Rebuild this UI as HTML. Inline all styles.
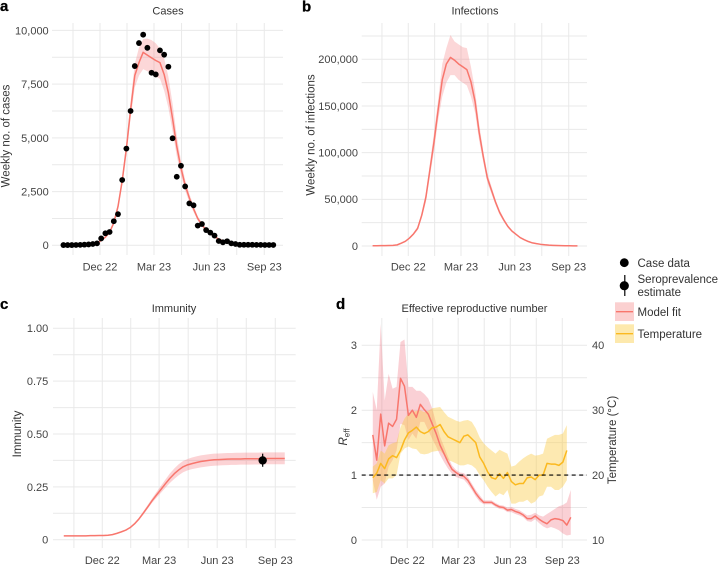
<!DOCTYPE html>
<html>
<head>
<meta charset="utf-8">
<style>
html,body{margin:0;padding:0;background:#fff;}
svg{display:block;font-family:"Liberation Sans",sans-serif;}
text{fill:#444;font-size:11px;}
.title{fill:#333;text-anchor:middle;}
.tag{fill:#000;font-weight:bold;font-size:15px;stroke:#000;stroke-width:0.3px;}
.axt{fill:#333;font-size:11.5px;text-anchor:middle;}
.leg{fill:#333;font-size:11.5px;}
</style>
</head>
<body>
<svg id="chart" width="718" height="566" viewBox="0 0 718 566" xmlns="http://www.w3.org/2000/svg">
  <g id="layer-a"></g>
  <g id="layer-b"></g>
  <g id="layer-c"></g>
  <g id="layer-d"></g>

  <text class="tag" x="0" y="11">a</text>
  <text class="tag" x="302" y="11.5">b</text>
  <text class="tag" x="0" y="309">c</text>
  <text class="tag" x="336" y="309">d</text>

  <text class="title" x="168" y="14.5">Cases</text>
  <text class="title" x="475" y="14.5">Infections</text>
  <text class="title" x="174" y="312">Immunity</text>
  <text class="title" x="474.5" y="312">Effective reproductive number</text>

  <text class="axt" transform="translate(9.5,136) rotate(-90)">Weekly no. of cases</text>
  <text class="axt" transform="translate(314.5,135) rotate(-90)">Weekly no. of infections</text>
  <text class="axt" transform="translate(21,434) rotate(-90)">Immunity</text>
  <text class="axt" transform="translate(347,437) rotate(-90)"><tspan font-style="italic">R</tspan><tspan font-size="8" dy="2.5">eff</tspan></text>
  <text class="axt" transform="translate(616,440) rotate(-90)">Temperature (°C)</text>

  <g>
    <circle cx="624.3" cy="262.7" r="4.4" fill="#000"></circle>
    <text class="leg" x="637.5" y="267">Case data</text>
    <line x1="624.8" x2="624.8" y1="275" y2="296" stroke="#000" stroke-width="1.2"></line>
    <circle cx="624.3" cy="285.7" r="4.6" fill="#000"></circle>
    <text class="leg" x="637.5" y="283">Seroprevalence</text>
    <text class="leg" x="637.5" y="296">estimate</text>
    <rect x="615" y="302.3" width="19" height="18.7" fill="#fbd0d0"></rect>
    <line x1="616" x2="633" y1="311.7" y2="311.7" stroke="#f8766d" stroke-width="1.4"></line>
    <text class="leg" x="637.5" y="316">Model fit</text>
    <rect x="615" y="324.3" width="19" height="18.7" fill="#fde9ad"></rect>
    <line x1="616" x2="633" y1="333.7" y2="333.7" stroke="#fbb91f" stroke-width="1.4"></line>
    <text class="leg" x="637.5" y="338">Temperature</text>
  </g>
</svg>

<script>
// Shared date axis values (days since 1 Dec 2022)
const weekDays = [-61,-54,-47,-40,-33,-26,-19,-12,-5,2,9,16,23,30,37,44,51,58,65,72,79,86,93,100,107,114,121,128,135,142,149,156,163,170,177,184,191,198,205,212,219,226,233,240,247,254,261,268,275,282,289];
const dateTickDays = [0,90,182,274];
const dateTickLabels = ['Dec 22','Mar 23','Jun 23','Sep 23'];
const dateMinorDays = [-45,45,136,228];

// Panel a: weekly cases
const caseData = [10,10,10,15,20,30,40,60,90,320,560,620,1120,1450,3040,4500,6250,8340,9410,9800,9190,8030,7950,9070,8870,8310,4980,3190,3700,2740,1950,1860,915,990,710,590,450,200,140,190,90,60,25,25,25,25,20,20,15,15,15];
const caseFit = [20,20,20,25,30,40,55,75,110,220,380,600,1050,1800,3000,4500,6300,7900,8500,8980,8850,8720,8600,8500,7950,7100,5900,4600,3600,2800,2200,1700,1250,950,720,540,400,290,210,150,110,80,60,45,35,28,22,18,15,12,10];
const caseUpper = [25,25,25,30,35,45,62,85,125,245,420,660,1150,1950,3200,4800,6700,8450,9200,9600,9620,9550,9400,9150,8700,7850,6600,5100,3950,3050,2400,1850,1350,1030,780,580,430,310,225,160,118,86,65,48,38,30,24,20,16,13,11];
const caseLower = [15,15,15,20,25,35,48,66,98,198,345,545,950,1650,2800,4200,5900,7350,7900,8200,8100,8000,7850,7750,7200,6400,5300,4150,3250,2550,2000,1550,1150,870,660,500,370,270,195,140,102,74,55,42,32,26,20,16,14,11,9];
const caseTicks = [0,2500,5000,7500,10000];
const caseTickLabels = ['0','2,500','5,000','7,500','10,000'];
const caseMinorTicks = [1250,3750,6250,8750];

// Panel b: weekly infections
const infectionFit = [300,300,350,400,500,700,1200,3000,5000,8500,13000,19000,33000,52000,82000,112000,146000,178000,195000,202000,199000,195000,192000,189000,176000,155000,122000,96000,73000,60000,47000,36000,28000,21000,16000,12500,9000,6800,4800,3300,2500,1800,1300,900,700,500,400,300,200,150,100];
const infectionUpper = [330,330,380,440,550,770,1320,3300,5500,9300,14300,21000,36000,57000,89000,122000,157000,195000,212000,226000,219000,216000,213000,212000,192000,167000,131000,102000,78000,64000,50000,38500,30000,22500,17200,13400,9700,7300,5200,3600,2700,1950,1400,970,760,540,430,320,215,160,110];
const infectionLower = [270,270,320,360,450,630,1080,2700,4500,7700,11700,17000,30000,47000,75000,102000,135000,160000,175000,183000,183000,178000,175000,172000,160000,143000,113000,90000,68000,56000,44000,33500,26000,19500,14800,11600,8300,6300,4400,3000,2300,1650,1200,830,640,460,370,280,185,140,90];
const infectionTicks = [0,50000,100000,150000,200000];
const infectionTickLabels = ['0','50,000','100,000','150,000','200,000'];
const infectionMinorTicks = [25000,75000,125000,175000,225000];

// Panel c: immunity
const immunityFit = [0.018,0.018,0.018,0.018,0.018,0.018,0.019,0.019,0.02,0.02,0.021,0.024,0.03,0.037,0.045,0.057,0.075,0.098,0.126,0.155,0.185,0.212,0.238,0.265,0.29,0.312,0.33,0.345,0.354,0.36,0.365,0.37,0.373,0.376,0.378,0.379,0.38,0.381,0.382,0.382,0.382,0.383,0.383,0.383,0.383,0.383,0.384,0.384,0.384,0.384,0.384];
const immunityUpper = [0.02,0.02,0.02,0.02,0.02,0.02,0.021,0.021,0.022,0.022,0.023,0.026,0.032,0.039,0.047,0.06,0.08,0.104,0.134,0.165,0.196,0.226,0.255,0.285,0.313,0.337,0.357,0.372,0.382,0.389,0.394,0.399,0.402,0.405,0.407,0.408,0.409,0.41,0.41,0.411,0.411,0.412,0.412,0.412,0.412,0.413,0.413,0.413,0.413,0.413,0.413];
const immunityLower = [0.016,0.016,0.016,0.016,0.016,0.016,0.017,0.017,0.018,0.018,0.019,0.022,0.028,0.035,0.043,0.054,0.07,0.092,0.118,0.147,0.175,0.199,0.222,0.246,0.268,0.288,0.305,0.319,0.328,0.334,0.338,0.342,0.345,0.348,0.35,0.351,0.352,0.353,0.354,0.354,0.355,0.355,0.355,0.356,0.356,0.356,0.357,0.357,0.357,0.357,0.357];
const seroDay = [254];
const seroValue = [0.375];
const seroLow = [0.345];
const seroHigh = [0.407];
const immunityTicks = [0,0.25,0.5,0.75,1];
const immunityTickLabels = ['0','0.25','0.50','0.75','1.00'];
const immunityMinorTicks = [0.125,0.375,0.625,0.875];

// Panel d: effective reproductive number and temperature
const reffFit = [1.62,1.23,1.94,1.45,1.8,1.75,1.86,2.49,2.37,1.92,2.0,1.89,2.09,2.01,1.94,1.79,1.64,1.46,1.33,1.2,1.09,1.04,1.0,0.98,0.92,0.82,0.72,0.64,0.58,0.58,0.58,0.54,0.51,0.5,0.46,0.47,0.44,0.42,0.385,0.33,0.33,0.37,0.32,0.28,0.25,0.31,0.33,0.32,0.3,0.23,0.35];
const reffUpper = [2.28,2.0,3.33,2.15,2.56,2.33,2.36,3.05,3.09,2.36,2.36,2.3,2.3,2.25,2.18,2.03,1.8,1.59,1.44,1.28,1.15,1.08,1.04,1.03,0.97,0.87,0.77,0.69,0.61,0.61,0.61,0.57,0.54,0.53,0.5,0.51,0.48,0.46,0.42,0.38,0.39,0.42,0.38,0.36,0.4,0.44,0.48,0.52,0.54,0.58,0.77];
const reffLower = [0.92,0.62,0.82,0.87,1.13,1.23,1.38,1.79,1.77,1.54,1.64,1.56,1.82,1.82,1.69,1.56,1.44,1.31,1.2,1.1,1.02,0.97,0.95,0.93,0.86,0.77,0.67,0.59,0.55,0.55,0.55,0.51,0.48,0.47,0.43,0.43,0.4,0.38,0.35,0.29,0.28,0.32,0.26,0.21,0.18,0.2,0.18,0.15,0.1,0.07,0.08];
const temperatureFit = [19.6,20.3,21.8,21.0,22.5,23.0,22.7,23.8,25.4,26.5,26.9,27.4,26.7,26.4,26.7,27.3,27.4,27.8,26.7,25.9,25.6,25.3,25,26,26.2,25.6,25,22.8,21.8,20.5,19.6,19.4,20.2,19.5,20.4,19,18.5,18.7,18.7,19.6,19.7,19.3,20,20,21.8,21.7,21.7,21.5,22,23.8];
const temperatureUpper = [21.3,21.8,23.8,23.3,24.6,24.9,25.1,27.4,28.7,29.5,29.7,29.9,30,29.7,29.9,30.3,30.4,30.5,29.7,29,28.7,28.4,28.2,28.4,28.5,28.2,27.2,25.8,24.9,24.3,23.8,23.3,23.9,23.6,23.3,21.3,21.5,22.1,22.6,23,23.3,23,23.1,23.3,25.6,25.9,26.2,26.2,26.4,27.7];
const temperatureLower = [17.2,17.4,19.2,18.7,19.5,19.5,20,23.3,24.1,24.4,24.1,24,23.3,23.2,23.3,23.6,23.7,23.8,23.1,22.3,22.1,21.8,21.5,21.5,21.7,21.5,21,20,19.2,18.2,17.4,16.7,17.2,16.9,17.7,15.6,15.6,15.9,15.9,16.2,15.6,15.9,16.7,16.9,18.2,18.2,17.7,17.7,18.2,19.2];
const reffTicks = [0,1,2,3];
const reffTickLabels = ['0','1','2','3'];
const reffMinorTicks = [0.5,1.5,2.5];
const temperatureTicks = [10,20,30,40];
const temperatureTickLabels = ['10','20','30','40'];
const referenceLevel = [1];

const NS = 'http://www.w3.org/2000/svg';
const GRID = '#e9e9e9';
const RED = '#f8766d';
const YELLOW = '#fbb91f';

function make(parent, tag, attrs) {
  const node = document.createElementNS(NS, tag);
  for (const key in attrs) node.setAttribute(key, attrs[key]);
  parent.appendChild(node);
  return node;
}
function linear(d0, d1, r0, r1) {
  return function (v) { return r0 + (v - d0) * (r1 - r0) / (d1 - d0); };
}
function linePath(days, vals, sx, sy) {
  return vals.map(function (v, i) {
    return (i ? 'L' : 'M') + sx(days[i]).toFixed(2) + ' ' + sy(v).toFixed(2);
  }).join('');
}
function ribbonPath(days, hi, lo, sx, sy) {
  let d = linePath(days, hi, sx, sy);
  for (let i = lo.length - 1; i >= 0; i--) {
    d += 'L' + sx(days[i]).toFixed(2) + ' ' + sy(lo[i]).toFixed(2);
  }
  return d + 'Z';
}

function drawFrame(g, box, sx, sy, yTicks, yLabels, yMinor, labelX, baseY) {
  dateMinorDays.concat(dateTickDays).forEach(function (day) {
    const gridLine = make(g, 'line', {x1: sx(day), x2: sx(day), y1: box.top, y2: box.bottom, stroke: GRID, 'stroke-width': 1});
    
    
  });
  yMinor.concat(yTicks).forEach(function (v) {
    const gridLine = make(g, 'line', {x1: box.left, x2: box.right, y1: sy(v), y2: sy(v), stroke: GRID, 'stroke-width': 1});
    
    
  });
  yTicks.forEach(function (v, i) {
    const label = make(g, 'text', {x: labelX, y: sy(v) + 3.9, 'text-anchor': 'end'});
    label.textContent = yLabels[i];
    
    
  });
  dateTickDays.forEach(function (day, i) {
    const label = make(g, 'text', {x: sx(day), y: baseY, 'text-anchor': 'middle'});
    label.textContent = dateTickLabels[i];
    
    
  });
}
function drawBand(g, days, hi, lo, sx, sy, fill, name) {
  const band = make(g, 'path', {d: ribbonPath(days, hi, lo, sx, sy), fill: fill, stroke: 'none'});
  
  
}
function drawLine(g, days, vals, sx, sy, color, name) {
  const path = make(g, 'path', {d: linePath(days, vals, sx, sy), fill: 'none', stroke: color, 'stroke-width': 1.5, 'stroke-linejoin': 'round'});
  
  
}

// Panel a
(function () {
  const g = document.getElementById('layer-a');
  const sx = linear(0, 274, 100, 264.3);
  const sy = linear(0, 10000, 245.3, 30.4);
  drawFrame(g, {left: 52, right: 283, top: 23, bottom: 255}, sx, sy, caseTicks, caseTickLabels, caseMinorTicks, 48.7, 270.5);
  drawBand(g, weekDays, caseUpper, caseLower, sx, sy, 'rgba(245,110,115,0.28)', 'cases-model-ribbon');
  drawLine(g, weekDays, caseFit, sx, sy, RED, 'cases-model-line');
  caseData.forEach(function (v, i) {
    const dot = make(g, 'circle', {cx: sx(weekDays[i]), cy: sy(v), r: 2.9, fill: '#000'});
    
    
  });
})();

// Panel b
(function () {
  const g = document.getElementById('layer-b');
  const sx = linear(0, 274, 408.3, 568.7);
  const sy = linear(0, 200000, 246, 59.3);
  drawFrame(g, {left: 361.7, right: 587, top: 23, bottom: 256}, sx, sy, infectionTicks, infectionTickLabels, infectionMinorTicks, 358, 270.5);
  drawBand(g, weekDays, infectionUpper, infectionLower, sx, sy, 'rgba(245,110,115,0.28)', 'infections-model-ribbon');
  drawLine(g, weekDays, infectionFit, sx, sy, RED, 'infections-model-line');
})();

// Panel c
(function () {
  const g = document.getElementById('layer-c');
  const sx = linear(0, 274, 102.3, 275.3);
  const sy = linear(0, 1, 539.7, 328.3);
  drawFrame(g, {left: 53, right: 295.7, top: 318, bottom: 548}, sx, sy, immunityTicks, immunityTickLabels, immunityMinorTicks, 48.3, 564);
  drawBand(g, weekDays, immunityUpper, immunityLower, sx, sy, 'rgba(245,110,115,0.3)', 'immunity-model-ribbon');
  drawLine(g, weekDays, immunityFit, sx, sy, RED, 'immunity-model-line');
  seroValue.forEach(function (v, i) {
    const bar = make(g, 'line', {x1: sx(seroDay[i]), x2: sx(seroDay[i]), y1: sy(seroLow[i]), y2: sy(seroHigh[i]), stroke: '#000', 'stroke-width': 1.2});
    
    
    const dot = make(g, 'circle', {cx: sx(seroDay[i]), cy: sy(v), r: 4.2, fill: '#000'});
    
    
  });
})();

// Panel d
(function () {
  const g = document.getElementById('layer-d');
  const sx = linear(0, 274, 407.3, 562.3);
  const sy = linear(0, 3, 540, 345.3);
  const st = linear(10, 40, 540, 345.3);
  drawFrame(g, {left: 361.7, right: 587, top: 318, bottom: 548}, sx, sy, reffTicks, reffTickLabels, reffMinorTicks, 357, 564);
  temperatureTicks.forEach(function (v, i) {
    const label = make(g, 'text', {x: 592, y: st(v) + 3.9});
    label.textContent = temperatureTickLabels[i];
    
    
  });
  const tempDays = weekDays.slice(0, temperatureFit.length);
  drawBand(g, weekDays, reffUpper, reffLower, sx, sy, 'rgba(240,100,115,0.3)', 'reff-model-ribbon');
  drawBand(g, tempDays, temperatureUpper, temperatureLower, sx, st, 'rgba(250,200,60,0.4)', 'temperature-ribbon');
  drawLine(g, weekDays, reffFit, sx, sy, RED, 'reff-model-line');
  drawLine(g, tempDays, temperatureFit, sx, st, YELLOW, 'temperature-line');
  referenceLevel.forEach(function (v) {
    const ref = make(g, 'line', {x1: 361.7, x2: 587, y1: sy(v), y2: sy(v), stroke: '#000', 'stroke-width': 1.1, 'stroke-dasharray': '4 3.5'});
    
    
  });
})();
</script>
</body>
</html>
